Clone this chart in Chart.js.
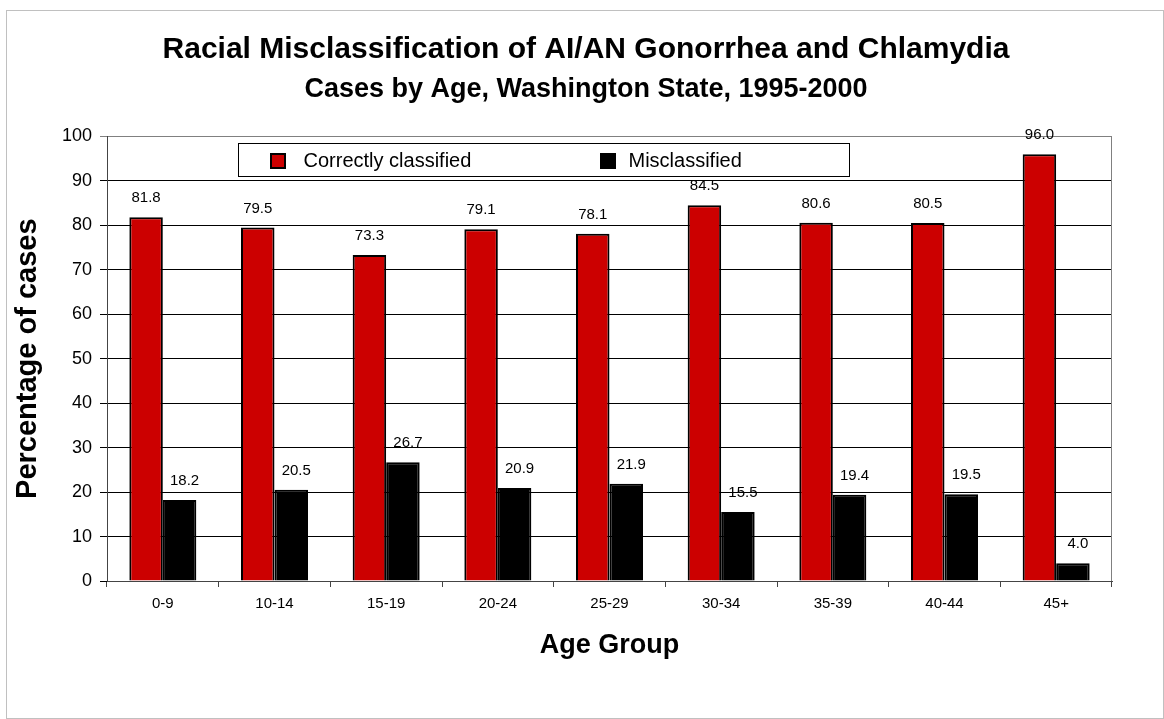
<!DOCTYPE html>
<html>
<head>
<meta charset="utf-8">
<script src="https://cdn.jsdelivr.net/npm/chart.js@4.4.0/dist/chart.umd.min.js"></script>
<style>
html,body{margin:0;padding:0;background:#fff;}
#frame{position:absolute;left:6px;top:10px;width:1156px;height:707px;border:1px solid #c0c0c0;}
#wrap{position:absolute;left:0;top:0;width:1164px;height:719px;}
</style>
</head>
<body>
<div id="frame"></div>
<div id="wrap"><canvas id="chart" width="1164" height="719"></canvas></div>
<script>
const ageGroups = ['0-9','10-14','15-19','20-24','25-29','30-34','35-39','40-44','45+'];
const correctPct = [81.8, 79.5, 73.3, 79.1, 78.1, 84.5, 80.6, 80.5, 96.0];
const misclassPct = [18.2, 20.5, 26.7, 20.9, 21.9, 15.5, 19.4, 19.5, 4.0];
const yMin = 0, yMax = 100, yStep = 10;

const FONT = '"Liberation Sans", Arial, Helvetica, sans-serif';
Chart.defaults.font.family = FONT;
Chart.defaults.color = '#000';

// right + top edge of the plot area (gray like the original)
const plotFrame = {
  id:'plotFrame',
  beforeDatasetsDraw(chart){
    const {ctx, chartArea:a} = chart;
    ctx.save();
    ctx.strokeStyle = '#808080'; ctx.lineWidth = 1;
    ctx.beginPath();
    ctx.moveTo(Math.round(a.right)-0.5, a.top);
    ctx.lineTo(Math.round(a.right)-0.5, a.bottom);
    ctx.stroke();
    ctx.restore();
  }
};

// numbers above each bar
const valueLabels = {
  id:'valueLabels',
  afterDatasetsDraw(chart){
    const ctx = chart.ctx;
    ctx.save();
    ctx.font = '15px ' + FONT;
    ctx.fillStyle = '#000';
    ctx.textAlign = 'center';
    ctx.textBaseline = 'middle';
    chart.data.datasets.forEach((ds,i)=>{
      chart.getDatasetMeta(i).data.forEach((bar,j)=>{
        ctx.fillText(ds.data[j].toFixed(1), bar.x + (ds.labelShift||0), bar.y - 19);
      });
    });
    ctx.restore();
  }
};

// boxed legend sitting inside the plot area
const boxLegend = {
  id:'boxLegend',
  afterDatasetsDraw(chart){
    const {ctx, chartArea:a} = chart;
    const x = Math.round(a.left) + 131.5, y = Math.round(a.top) + 7.5, w = 611, h = 33;
    const squareAt = [31, 361], textAt = [65, 390];
    ctx.save();
    ctx.fillStyle = '#fff'; ctx.fillRect(x, y, w, h);
    ctx.strokeStyle = '#000'; ctx.lineWidth = 1; ctx.strokeRect(x, y, w, h);
    ctx.font = '20px ' + FONT;
    ctx.textAlign = 'left'; ctx.textBaseline = 'middle';
    chart.data.datasets.forEach((ds,i)=>{
      const sx = Math.round(x + squareAt[i]), sy = Math.round(y + 9);
      ctx.fillStyle = ds.backgroundColor; ctx.fillRect(sx, sy, 16, 16);
      ctx.strokeStyle = '#000'; ctx.lineWidth = 2; ctx.strokeRect(sx+1, sy+1, 14, 14);
      ctx.fillStyle = '#000';
      ctx.fillText(ds.label, x + textAt[i], y + h/2 + 1);
    });
    ctx.restore();
  }
};

new Chart(document.getElementById('chart').getContext('2d'), {
  type:'bar',
  data:{
    labels: ageGroups,
    datasets:[
      {label:'Correctly classified', data:correctPct, backgroundColor:'#CC0000', borderColor:'#000', borderWidth:2, labelShift:0},
      {label:'Misclassified', data:misclassPct, backgroundColor:'#000', borderColor:'#000', borderWidth:2, labelShift:5}
    ]
  },
  options:{
    responsive:false,
    animation:false,
    layout:{ padding:{left:8, right:0, top:0, bottom:57} },
    datasets:{ bar:{ categoryPercentage:0.6, barPercentage:1 } },
    plugins:{
      legend:{ display:false },
      tooltip:{ enabled:false },
      title:{ display:true, text:'Racial Misclassification of AI/AN Gonorrhea and Chlamydia', color:'#000',
        font:{ size:30, weight:'bold' }, padding:{ top:32, bottom:0 } },
      subtitle:{ display:true, text:'Cases by Age, Washington State, 1995-2000', color:'#000',
        font:{ size:27, weight:'bold' }, padding:{ top:5, bottom:31 } }
    },
    scales:{
      x:{
        grid:{ drawOnChartArea:false, tickLength:6, color:'#444' },
        border:{ color:'#444' },
        ticks:{ font:{ size:15 }, color:'#000', padding:8 },
        title:{ display:true, text:'Age Group', color:'#000', font:{ size:27, weight:'bold' }, padding:{ top:0, bottom:0 } },
        afterFit(s){ s.height = 81; }
      },
      y:{
        min:yMin, max:yMax,
        ticks:{ stepSize:yStep, font:{ size:18 }, color:'#000', padding:8 },
        grid:{ color:c => (c.tick && c.tick.value === yMax) ? '#808080' : '#000', tickLength:7 },
        border:{ color:'#444' },
        title:{ display:true, text:'Percentage of cases', color:'#000', font:{ size:29, weight:'bold' }, padding:{ top:3, bottom:0 } },
        afterFit(s){ s.width = 99; }
      },
      yRight:{
        position:'right',
        grid:{ display:false },
        ticks:{ display:false },
        border:{ display:false },
        afterFit(s){ s.width = 52; }
      }
    }
  },
  plugins:[plotFrame, valueLabels, boxLegend]
});
</script>
</body>
</html>
